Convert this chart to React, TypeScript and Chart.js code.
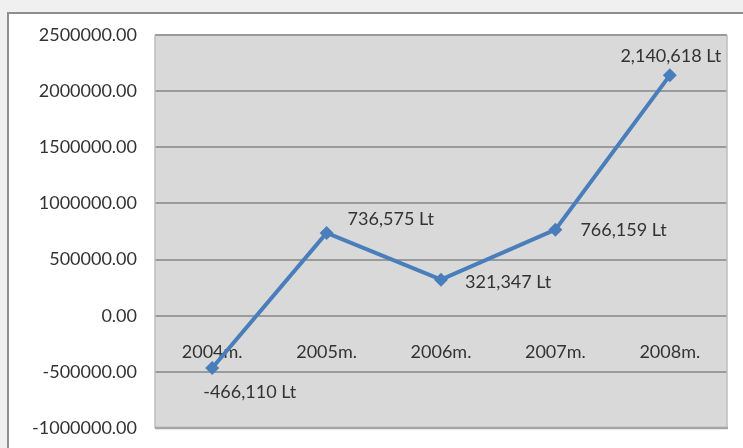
import React, { useEffect, useRef } from "react";
import { Chart, registerables } from "chart.js";

Chart.register(...registerables);

const categories = ["2004m.", "2005m.", "2006m.", "2007m.", "2008m."];
const profit = [-466110, 736575, 321347, 766159, 2140618];
const pointLabels = ["-466,110 Lt", "736,575 Lt", "321,347 Lt", "766,159 Lt", "2,140,618 Lt"];
const yMin = -1000000;
const yMax = 2500000;
const yStep = 500000;

// label placement relative to each point (style, not data)
const labelOffsets = [
  { dx: -9, dy: 24, align: "left" },
  { dx: 21, dy: -14, align: "left" },
  { dx: 24, dy: 3, align: "left" },
  { dx: 25, dy: 1, align: "left" },
  { dx: 1, dy: -19, align: "center" },
];

const FONT = "Lato, 'Open Sans', sans-serif";
const TEXT = "#333333";

const framePlugin = {
  id: "frame",
  beforeDraw(chart: any) {
    const { ctx, width, height, chartArea } = chart;
    ctx.save();
    ctx.fillStyle = "#f0f0f0";
    ctx.fillRect(0, 0, width, height);
    ctx.fillStyle = "#ffffff";
    ctx.fillRect(9, 14, width - 9, height - 14);
    ctx.strokeStyle = "#8e8e8e";
    ctx.lineWidth = 2;
    ctx.beginPath();
    ctx.moveTo(8, height);
    ctx.lineTo(8, 13);
    ctx.lineTo(width, 13);
    ctx.stroke();
    ctx.fillStyle = "#d9d9d9";
    ctx.fillRect(chartArea.left, chartArea.top, chartArea.right - chartArea.left, chartArea.bottom - chartArea.top);
    ctx.restore();
  },
  beforeDatasetsDraw(chart: any) {
    const { ctx, chartArea } = chart;
    ctx.save();
    ctx.strokeStyle = "#bdbdbd";
    ctx.lineWidth = 1.5;
    ctx.beginPath();
    ctx.moveTo(chartArea.left, chartArea.top);
    ctx.lineTo(chartArea.left, chartArea.bottom);
    ctx.moveTo(chartArea.right, chartArea.top);
    ctx.lineTo(chartArea.right, chartArea.bottom);
    ctx.stroke();
    ctx.strokeStyle = "#a6a6a6";
    ctx.lineWidth = 2.5;
    ctx.beginPath();
    ctx.moveTo(chartArea.left, chartArea.bottom);
    ctx.lineTo(chartArea.right + 1, chartArea.bottom);
    ctx.stroke();
    ctx.restore();
  },
};

const labelPlugin = {
  id: "pointLabels",
  afterDatasetsDraw(chart: any) {
    const { ctx } = chart;
    const meta = chart.getDatasetMeta(0);
    ctx.save();
    ctx.font = `18px ${FONT}`;
    ctx.fillStyle = TEXT;
    ctx.textBaseline = "middle";
    meta.data.forEach((pt: any, i: number) => {
      const o = labelOffsets[i];
      ctx.textAlign = o.align;
      ctx.fillText(pointLabels[i], pt.x + o.dx, pt.y + o.dy);
    });
    ctx.restore();
  },
};

export default function App() {
  const ref = useRef<HTMLCanvasElement>(null);

  useEffect(() => {
    if (!ref.current) return;
    const chart = new Chart(ref.current, {
      type: "line",
      data: {
        labels: categories,
        datasets: [
          {
            data: profit,
            borderColor: "#4a7ebb",
            backgroundColor: "#4a7ebb",
            borderWidth: 4,
            pointStyle: "rectRot",
            pointRadius: 7,
            pointBorderWidth: 0,
            tension: 0,
          },
        ],
      },
      options: {
        responsive: false,
        animation: false,
        devicePixelRatio: 1,
        layout: { padding: { left: 0, top: 35, right: 16, bottom: 20 } },
        plugins: { legend: { display: false }, tooltip: { enabled: false } },
        scales: {
          x: {
            type: "category",
            position: { y: 0 } as any,
            offset: true,
            grid: { display: false, drawTicks: false },
            border: { display: false },
            ticks: { color: TEXT, font: { family: FONT, size: 18 }, padding: 26, maxRotation: 0 },
            afterFit: (s: any) => {
              s.height = 0;
              s.paddingLeft = 0;
              s.paddingRight = 0;
            },
          },
          y: {
            min: yMin,
            max: yMax,
            grid: { color: "#9a9a9a", lineWidth: 2, drawTicks: false },
            border: { display: false },
            ticks: {
              stepSize: yStep,
              color: TEXT,
              font: { family: FONT, size: 18 },
              padding: 18,
              callback: (v: any) => Number(v).toFixed(2),
            },
            afterFit: (s: any) => {
              s.width = 155;
              s.paddingTop = 0;
              s.paddingBottom = 0;
            },
          },
        },
      },
      plugins: [framePlugin, labelPlugin],
    });
    return () => chart.destroy();
  }, []);

  return (
    <div style={{ position: "absolute", left: 0, top: 0, width: 743, height: 448 }}>
      <canvas ref={ref} width={743} height={448} />
    </div>
  );
}
